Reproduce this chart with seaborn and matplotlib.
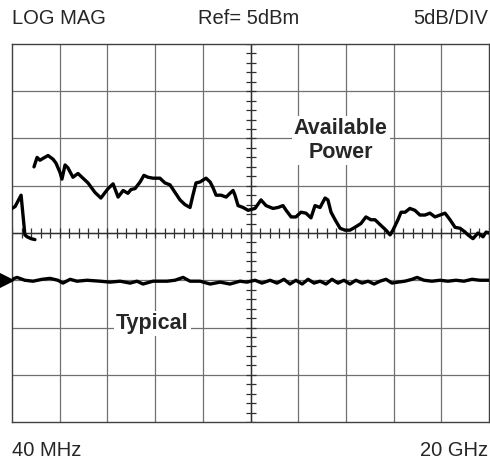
import numpy as np
import pandas as pd
import matplotlib
matplotlib.use("Agg")
import matplotlib.pyplot as plt
import matplotlib.transforms as mtransforms
import seaborn as sns

# Sweep: 40 MHz to 20 GHz, display 5 dB/div with the reference (5 dBm) one division below centre
F_START, F_STOP = 0.04, 20.0        # GHz
REF_LEVEL = 5.0                     # dBm
DB_PER_DIV = 5.0
N_XDIV, N_YDIV = 10, 8
REF_DIV = 3                         # reference line position, divisions from bottom

# Available power, low band (GHz, dBm)
avail_lo_freq = [0.04, 0.17, 0.42, 0.58, 0.67, 0.84, 1.00]
avail_lo_dbm = [12.6, 12.8, 14.0, 9.8, 9.6, 9.4, 9.3]

# Available power, main band (GHz, dBm)
avail_freq = [0.96, 1.09, 1.21, 1.34, 1.55, 1.76, 1.88, 2.05, 2.13, 2.26, 2.38, 2.59,
              2.80, 3.22, 3.51, 3.76, 4.06, 4.27, 4.48, 4.69, 4.89, 5.02, 5.19, 5.40,
              5.56, 5.73, 5.94, 6.23, 6.44, 6.65, 6.86, 7.07, 7.28, 7.49, 7.61, 7.74,
              7.91, 8.03, 8.16, 8.33, 8.45, 8.58, 8.79, 9.00, 9.16, 9.29, 9.37, 9.50,
              9.71, 9.92, 10.21, 10.46, 10.67, 10.96, 11.17, 11.38, 11.51, 11.72, 11.92,
              12.13, 12.34, 12.55, 12.72, 12.93, 13.14, 13.26, 13.39, 13.56, 13.77, 13.97,
              14.18, 14.39, 14.64, 14.85, 15.06, 15.23, 15.48, 15.69, 15.86, 15.98, 16.19,
              16.32, 16.49, 16.69, 16.90, 17.11, 17.32, 17.53, 17.74, 17.95, 18.16, 18.37,
              18.58, 18.79, 19.00, 19.12, 19.33, 19.54, 19.75, 19.88, 20.00]
avail_dbm = [17.0, 18.0, 17.7, 17.9, 18.2, 17.8, 17.4, 16.4, 15.7, 17.2, 16.9, 15.9,
             16.3, 15.3, 14.3, 13.7, 14.7, 15.2, 13.8, 14.5, 14.2, 14.6, 14.7, 15.4,
             16.1, 15.9, 15.8, 15.8, 15.3, 15.1, 14.3, 13.5, 13.0, 12.7, 14.0, 15.3,
             15.4, 15.6, 15.8, 15.4, 14.8, 14.0, 14.0, 13.8, 14.2, 14.5, 14.0, 12.9,
             12.7, 12.4, 12.6, 13.5, 12.9, 12.6, 12.7, 12.9, 12.4, 11.7, 11.7,
             12.2, 12.1, 11.6, 12.9, 12.7, 13.7, 13.5, 12.2, 11.4, 10.5, 10.3,
             10.3, 10.6, 11.0, 11.7, 11.4, 11.4, 10.8, 10.3, 9.8, 10.3, 11.4,
             12.2, 12.2, 12.6, 12.4, 11.9, 11.9, 12.1, 11.7, 11.9, 12.1, 11.4,
             10.6, 10.5, 10.1, 9.8, 9.4, 10.0, 9.6, 10.1, 10.0]

# Typical output power (GHz, dBm)
typ_freq = [0.04, 0.25, 0.58, 0.92, 1.30, 1.63, 1.96, 2.17, 2.47, 2.76, 3.18, 3.72,
            4.14, 4.56, 4.98, 5.27, 5.52, 5.94, 6.53, 6.86, 7.20, 7.49, 7.91, 8.33,
            8.75, 9.16, 9.58, 9.87, 10.21, 10.50, 10.84, 11.13, 11.42, 11.67, 11.92,
            12.18, 12.43, 12.68, 12.93, 13.18, 13.43, 13.68, 13.93, 14.18, 14.43, 14.69,
            14.94, 15.19, 15.44, 15.69, 15.94, 16.19, 16.48, 16.78, 16.99, 17.28, 17.61,
            17.95, 18.28, 18.62, 18.95, 19.29, 19.62, 20.00]
typ_dbm = [5.1, 5.3, 5.0, 4.9, 5.1, 5.2, 5.0, 4.7, 5.1, 4.9, 5.0, 4.9,
           4.8, 4.9, 4.7, 4.9, 4.6, 4.9, 4.9, 5.0, 5.3, 4.9, 4.9, 4.6,
           4.8, 4.6, 4.9, 4.8, 5.0, 4.7, 5.0, 4.7, 5.1, 4.6, 5.0,
           4.6, 5.1, 4.7, 4.9, 4.6, 5.1, 4.7, 5.0, 4.6, 5.0, 4.7,
           4.9, 4.6, 4.9, 5.1, 4.7, 4.8, 4.9, 5.1, 5.3, 5.0, 4.9,
           5.0, 4.9, 5.0, 4.9, 5.1, 5.0, 5.0]

traces = pd.concat([
    pd.DataFrame({"freq": avail_lo_freq, "dbm": avail_lo_dbm, "trace": "avail_lo"}),
    pd.DataFrame({"freq": avail_freq, "dbm": avail_dbm, "trace": "avail"}),
    pd.DataFrame({"freq": typ_freq, "dbm": typ_dbm, "trace": "typ"}),
], ignore_index=True)

sns.set_style("white")
plt.rcParams["font.family"] = ["Liberation Sans", "DejaVu Sans"]

fig = plt.figure(figsize=(4.9, 4.62), dpi=100)
ax = fig.add_axes([12 / 490, 40 / 462, 477 / 490, 378 / 462])

y_bottom = REF_LEVEL - REF_DIV * DB_PER_DIV
y_top = y_bottom + N_YDIV * DB_PER_DIV
ax.set_xlim(F_START, F_STOP)
ax.set_ylim(y_bottom, y_top)

# graticule
xg = np.linspace(F_START, F_STOP, N_XDIV + 1)
yg = np.linspace(y_bottom, y_top, N_YDIV + 1)
for x in xg[1:-1]:
    ax.axvline(x, color="#707070", lw=0.9, zorder=1)
for y in yg[1:-1]:
    ax.axhline(y, color="#707070", lw=0.9, zorder=1)

# centre lines with fine division marks
x_mid = xg[N_XDIV // 2]
y_mid = yg[N_YDIV // 2]
ax.axvline(x_mid, color="#303030", lw=1.0, zorder=1)
ax.axhline(y_mid, color="#303030", lw=1.0, zorder=1)
ax.plot(np.linspace(F_START, F_STOP, N_XDIV * 5 + 1), np.full(N_XDIV * 5 + 1, y_mid),
        ls="none", marker="|", ms=7, mew=0.9, color="#303030", zorder=1)
ax.plot(np.full(N_YDIV * 5 + 1, x_mid), np.linspace(y_bottom, y_top, N_YDIV * 5 + 1),
        ls="none", marker="_", ms=7, mew=0.9, color="#303030", zorder=1)

sns.lineplot(data=traces, x="freq", y="dbm", units="trace", estimator=None,
             sort=False, color="black", lw=2.4, ax=ax, zorder=3)

for side in ax.spines.values():
    side.set_color("#404040")
    side.set_linewidth(1.0)
ax.set_xticks([])
ax.set_yticks([])
ax.set_xlabel("")
ax.set_ylabel("")

# reference level marker on the left edge
trans = mtransforms.blended_transform_factory(ax.transAxes, ax.transData)
ax.plot([-0.013], [REF_LEVEL], marker=">", ms=10, color="black",
        transform=trans, clip_on=False, zorder=4)

# trace labels
box = dict(facecolor="white", edgecolor="none", pad=1.5)
ax.text(13.8, 19.8, "Available\nPower", ha="center", va="center", fontsize=15.5,
        fontweight="bold", linespacing=1.2, bbox=box, zorder=2)
ax.text(5.9, 0.45, "Typical", ha="center", va="center", fontsize=15.5,
        fontweight="bold", bbox=box, zorder=2)

# header and sweep annotations
fs = 14.5
fig.text(12 / 490, 1 - 18 / 462, "LOG MAG", ha="left", va="center", fontsize=fs)
fig.text(249 / 490, 1 - 18 / 462, "Ref= 5dBm", ha="center", va="center", fontsize=fs)
fig.text(488 / 490, 1 - 18 / 462, "5dB/DIV", ha="right", va="center", fontsize=fs)
fig.text(12 / 490, 1 - 450 / 462, "40 MHz", ha="left", va="center", fontsize=fs)
fig.text(488 / 490, 1 - 450 / 462, "20 GHz", ha="right", va="center", fontsize=fs)

fig.savefig("out.png", dpi=100, facecolor="white")
